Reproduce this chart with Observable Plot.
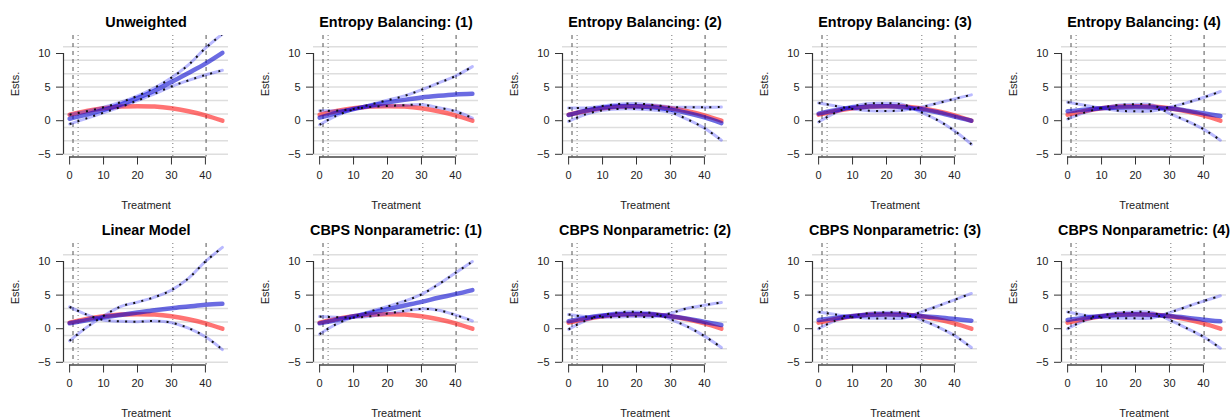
<!DOCTYPE html>
<html>
<head>
<meta charset="utf-8">
<script src="https://cdn.jsdelivr.net/npm/d3@7"></script>
<script src="https://cdn.jsdelivr.net/npm/@observablehq/plot@0.6"></script>
<style>
  html, body { margin: 0; padding: 0; background: #fff; }
  #wrap { position: relative; width: 1231px; height: 419px; background: #fff; overflow: hidden; }
  .panel { position: absolute; }
  .panel svg { display: block; font-family: "Liberation Sans", Arial, Helvetica, sans-serif; color: #222; }
</style>
</head>
<body>
<div id="wrap"></div>
<script>
// ---------- data ----------
const xs = [0, 5, 10, 15, 20, 25, 30, 35, 40, 45];
const truth = [0.9, 1.45, 1.85, 2.1, 2.15, 2.1, 1.85, 1.4, 0.8, 0.0];

const titles = [
  "Unweighted", "Entropy Balancing: (1)", "Entropy Balancing: (2)", "Entropy Balancing: (3)", "Entropy Balancing: (4)",
  "Linear Model", "CBPS Nonparametric: (1)", "CBPS Nonparametric: (2)", "CBPS Nonparametric: (3)", "CBPS Nonparametric: (4)"
];

const unwEst = [0.3, 0.9, 1.6, 2.4, 3.35, 4.45, 5.75, 7.1, 8.5, 10.1];
const unwA   = [0.9, 1.4, 2.0, 2.75, 3.7, 4.9, 6.4, 8.3, 10.8, 12.9];
const unwB   = [-0.5, 0.35, 1.2, 2.05, 3.0, 4.0, 5.1, 6.0, 6.8, 7.5];

const eb1Est = [0.45, 1.15, 1.75, 2.25, 2.7, 3.1, 3.45, 3.7, 3.9, 4.0];
const eb1A   = [1.5, 1.5, 1.75, 2.05, 2.2, 2.3, 2.4, 1.95, 1.4, 0.4];
const eb1B   = [-0.6, 0.75, 1.7, 2.4, 3.05, 3.7, 4.6, 5.6, 6.65, 8.05];

const eb2Est = [0.85, 1.5, 1.95, 2.15, 2.15, 2.0, 1.65, 1.15, 0.5, -0.35];
const eb2A   = [1.9, 1.9, 2.2, 2.5, 2.55, 2.35, 2.05, 2.0, 2.0, 2.05];
const eb2B   = [-0.1, 0.95, 1.55, 1.75, 1.75, 1.6, 1.25, 0.2, -1.1, -2.9];

const eb3Est = [1.05, 1.55, 1.95, 2.1, 2.15, 2.0, 1.7, 1.25, 0.6, 0.0];
const eb3A   = [2.65, 2.2, 1.75, 1.5, 1.45, 1.55, 2.0, 2.6, 3.25, 3.85];
const eb3B   = [-0.2, 1.2, 2.15, 2.55, 2.6, 2.4, 1.3, 0.1, -1.5, -3.5];

const eb4Est = [1.4, 1.65, 1.85, 1.95, 2.0, 1.95, 1.8, 1.5, 1.1, 0.7];
const eb4A   = [2.75, 2.3, 1.85, 1.5, 1.4, 1.45, 2.0, 2.65, 3.45, 4.35];
const eb4B   = [0.25, 1.2, 1.9, 2.35, 2.45, 2.35, 1.1, 0.0, -1.25, -2.9];

const linEst = [0.8, 1.25, 1.7, 2.05, 2.4, 2.75, 3.05, 3.3, 3.55, 3.7];
const linA   = [3.25, 2.1, 1.3, 1.1, 1.05, 1.15, 0.9, 0.1, -1.2, -3.1];
const linB   = [-1.8, 0.2, 1.9, 3.3, 3.95, 4.7, 5.75, 7.5, 10.0, 12.1];

const cb1Est = [0.8, 1.3, 1.85, 2.35, 2.9, 3.45, 4.0, 4.6, 5.15, 5.75];
const cb1A   = [1.8, 1.7, 1.65, 1.85, 2.25, 2.65, 2.95, 2.75, 2.05, 1.15];
const cb1B   = [-0.8, 0.7, 1.75, 2.6, 3.3, 4.1, 5.1, 6.6, 8.3, 10.0];

const cb2Est = [1.1, 1.6, 1.95, 2.15, 2.2, 2.1, 1.85, 1.5, 1.0, 0.55];
const cb2A   = [2.1, 1.8, 1.7, 1.75, 1.8, 1.75, 2.3, 3.05, 3.5, 3.9];
const cb2B   = [-0.1, 1.2, 2.0, 2.45, 2.5, 2.3, 1.4, 0.3, -1.1, -2.8];

const cb3Est = [1.3, 1.6, 1.9, 2.05, 2.1, 2.05, 1.9, 1.7, 1.45, 1.2];
const cb3A   = [2.5, 2.1, 1.7, 1.55, 1.55, 1.6, 2.45, 3.35, 4.3, 5.25];
const cb3B   = [0.0, 1.2, 1.9, 2.35, 2.45, 2.35, 1.4, 0.3, -1.0, -2.8];

const cb4Est = [1.3, 1.65, 1.9, 2.05, 2.1, 2.05, 1.9, 1.65, 1.35, 1.1];
const cb4A   = [2.5, 2.0, 1.65, 1.55, 1.55, 1.6, 2.4, 3.25, 4.1, 4.9];
const cb4B   = [0.0, 1.2, 1.9, 2.4, 2.5, 2.4, 1.3, 0.1, -1.2, -2.9];

const xTicks = [0, 10, 20, 30, 40];
const yTicks = [-5, 0, 5, 10];
const gridY = [-5, -3, -1, 1, 3, 5, 7, 9, 11];
const dashedX = [1.0, 40.2];
const dottedX = [2.5, 30.4];
const xDomain = [-1.8, 46.8];
const yDomain = [-5.4, 12.68];

// ---------- build ----------
const series = [
  [unwEst, unwA, unwB], [eb1Est, eb1A, eb1B], [eb2Est, eb2A, eb2B], [eb3Est, eb3A, eb3B], [eb4Est, eb4A, eb4B],
  [linEst, linA, linB], [cb1Est, cb1A, cb1B], [cb2Est, cb2A, cb2B], [cb3Est, cb3A, cb3B], [cb4Est, cb4A, cb4B]
];

const wrap = document.getElementById("wrap");
const curve = "catmull-rom";
const dotStyle = {stroke: "#111", strokeWidth: 2, strokeDasharray: "2,6.3", strokeLinecap: "butt", curve, clip: true};

series.forEach(([est, a, b], k) => {
  const rows = xs.map((x, i) => ({x, truth: truth[i], est: est[i], a: a[i], b: b[i]}));
  const col = k % 5, row = Math.floor(k / 5);
  const chart = Plot.plot({
    width: 232,
    height: 210,
    marginLeft: 63,
    marginRight: 4,
    marginTop: 35,
    marginBottom: 53.5,
    style: {background: "transparent", overflow: "visible"},
    x: {domain: xDomain, axis: null},
    y: {domain: yDomain, axis: null},
    marks: [
      Plot.ruleY(gridY, {stroke: "#dedede", strokeWidth: 1.5}),
      Plot.ruleX(dashedX, {stroke: "#555", strokeWidth: 1, strokeDasharray: "4,4"}),
      Plot.ruleX(dottedX, {stroke: "#777", strokeWidth: 1, strokeDasharray: "1,3"}),
      Plot.line(rows, {x: "x", y: "truth", stroke: "red", strokeOpacity: 0.55, strokeWidth: 4.5, curve, clip: true}),
      Plot.line(rows, {x: "x", y: "est", stroke: "#0000cd", strokeOpacity: 0.58, strokeWidth: 4.5, curve, clip: true}),
      Plot.line(rows, {x: "x", y: "a", stroke: "#0000ff", strokeOpacity: 0.27, strokeWidth: 3, curve, clip: true}),
      Plot.line(rows, {x: "x", y: "b", stroke: "#0000ff", strokeOpacity: 0.27, strokeWidth: 3, curve, clip: true}),
      Plot.line(rows, {x: "x", y: "a", ...dotStyle}),
      Plot.line(rows, {x: "x", y: "b", ...dotStyle}),
      // axes
      Plot.ruleX([xDomain[0]], {y1: yTicks[0], y2: yTicks[yTicks.length - 1], stroke: "#333", strokeWidth: 1.2}),
      Plot.ruleY([yDomain[0]], {x1: xTicks[0], x2: xTicks[xTicks.length - 1], stroke: "#444", strokeWidth: 1.5}),
      Plot.axisY(yTicks, {anchor: "left", tickSize: 7, tickPadding: 6, fontSize: 11, label: null, stroke: "#333"}),
      Plot.axisX(xTicks, {anchor: "bottom", tickSize: 8, tickPadding: 6, fontSize: 11, label: null, stroke: "#333"}),
      // labels
      Plot.text([titles[k]], {frameAnchor: "top", lineAnchor: "middle", dy: -13, fontWeight: "bold", fontSize: 14.4, fill: "#000"}),
      Plot.text(["Ests."], {frameAnchor: "left", lineAnchor: "middle", dx: -48, rotate: -90, fontSize: 11, fill: "#222"}),
      Plot.text(["Treatment"], {frameAnchor: "bottom", lineAnchor: "middle", dy: 48.5, fontSize: 11, fill: "#222"})
    ]
  });
  const div = document.createElement("div");
  div.className = "panel";
  div.style.left = Math.round(249.6 * col) + "px";
  div.style.top = Math.round(208.4 * row) + "px";
  div.appendChild(chart);
  wrap.appendChild(div);
});
</script>
</body>
</html>
